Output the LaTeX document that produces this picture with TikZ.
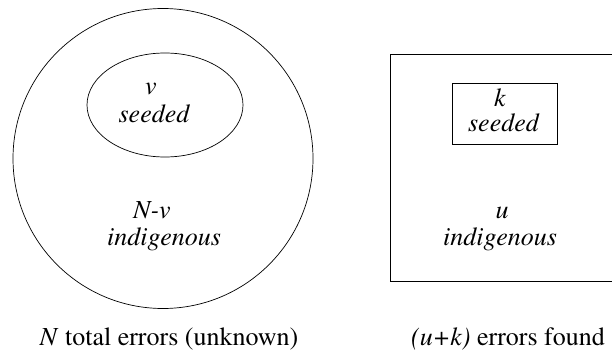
\documentclass[tikz,border=0pt]{standalone}
\usepackage[T1]{fontenc}
\usepackage{times}
\usetikzlibrary{shapes.geometric}
\begin{document}
\begin{tikzpicture}[x=1pt,y=-1pt,
  shapeline/.style={draw, line width=0.7pt, inner sep=0pt},
  lbl/.style={font=\fontsize{26}{30}\selectfont\itshape, anchor=base, inner sep=0pt},
  captext/.style={font=\fontsize{26}{30}\selectfont, anchor=base, inner sep=0pt}]
\useasboundingbox (0,0) rectangle (612,358);
% left: all errors
\node[shapeline, circle, minimum size=300pt] (univ) at (163,158.5) {};
\node[shapeline, ellipse, minimum width=156pt, minimum height=104pt] (seedset) at (165,105) {};
\node[lbl] (vtxt) at (151,95) {v};
\node[lbl] (vseed) at (154,123) {seeded};
\node[lbl] (nvtxt) at (152,218) {N-v};
\node[lbl] (nvind) at (164,245) {indigenous};
\node[captext] (capleft) at (169,345) {\textit{N} total errors (unknown)};
% right: errors found (right side runs past the page edge)
\node[shapeline, rectangle, minimum width=224pt, minimum height=227pt] (found) at (502,167.5) {};
\node[shapeline, rectangle, minimum width=105pt, minimum height=61pt] (foundseed) at (504.5,113.5) {};
\node[lbl] (ktxt) at (500,107) {k};
\node[lbl] (kseed) at (503.5,132) {seeded};
\node[lbl] (utxt) at (502,218) {u};
\node[lbl] (uind) at (500,245) {indigenous};
\node[captext] (capright) at (508,345) {\textit{(u+k)} errors found};
\end{tikzpicture}
\end{document}
